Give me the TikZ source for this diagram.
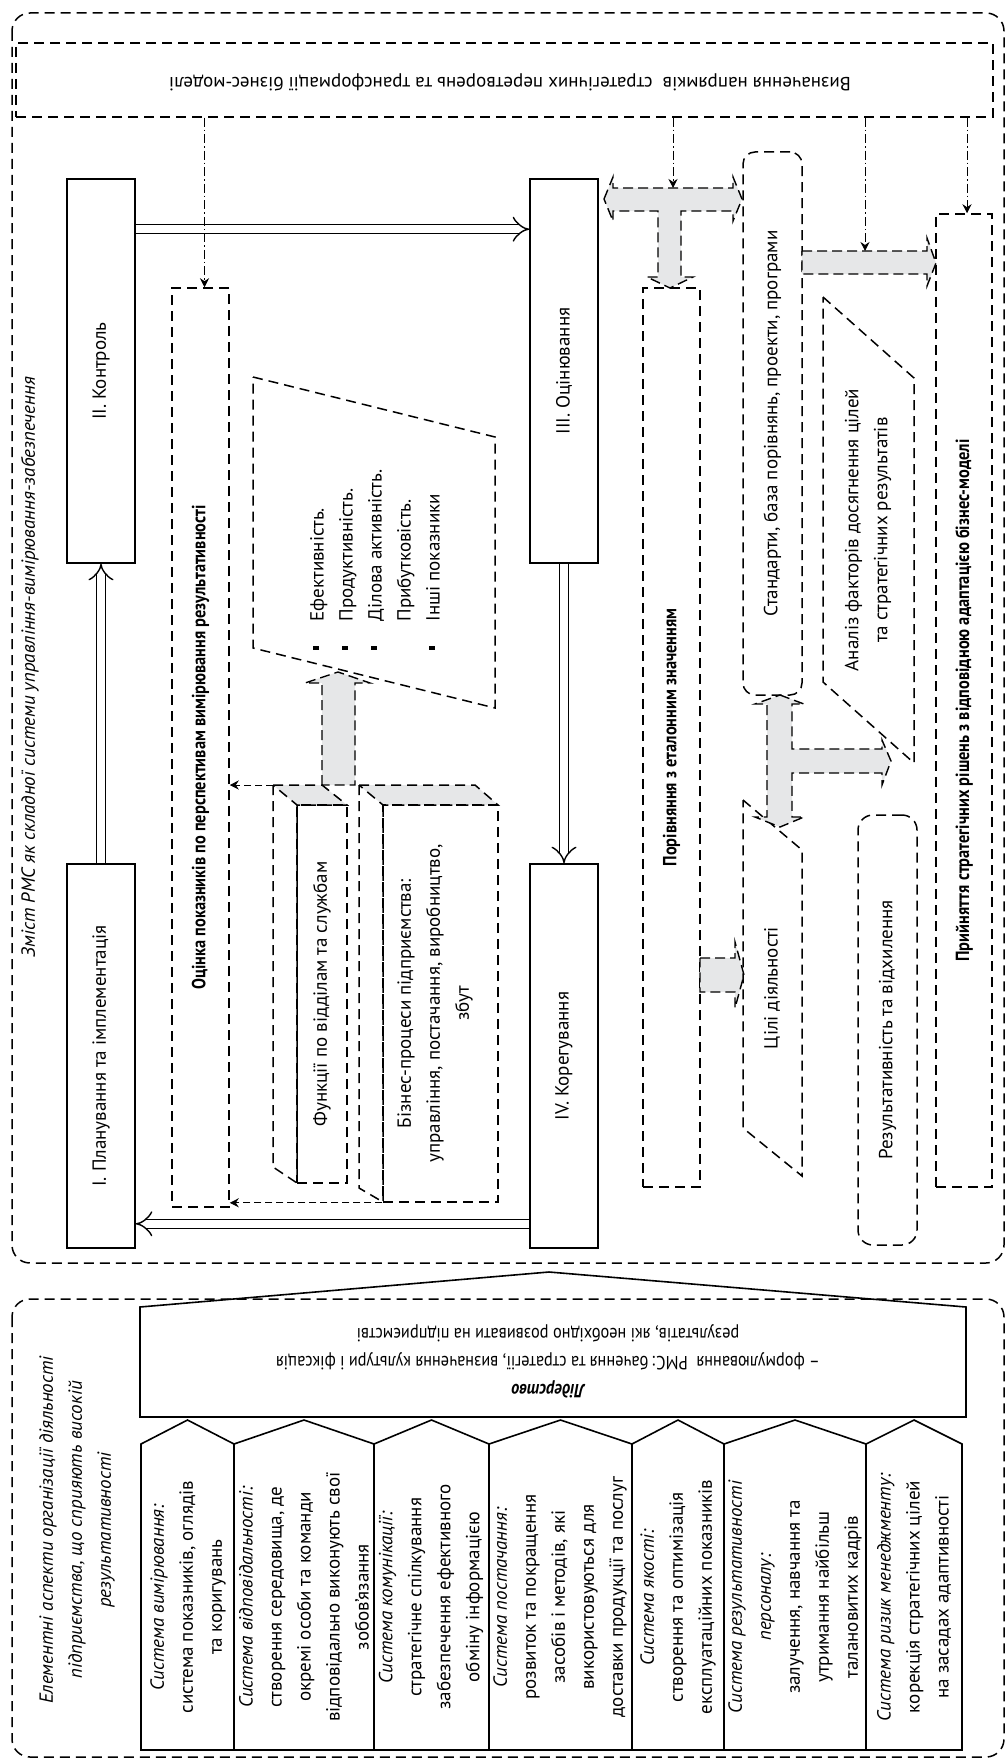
\documentclass[tikz,border=0pt]{standalone}
\usepackage{fontspec}
\setmainfont{PT Sans}
\newfontfamily\condfont{PT Sans}[FakeStretch=0.86]
\usetikzlibrary{arrows.meta}
\definecolor{arrowgray}{HTML}{E6E7E8}
\newcommand{\sqbul}{\makebox[1.5em][l]{\rule[0.25em]{0.22em}{0.3em}}}
\newcommand{\nobul}{\makebox[1.5em][l]{}}

\begin{document}
\begin{tikzpicture}[x=1pt,y=-1pt,
  every node/.style={font=\fontsize{19}{29}\selectfont, inner sep=0pt},
  solidbox/.style={draw, line width=1.6pt, minimum width=68pt, minimum height=384pt},
  dashbox/.style={draw, line width=1.5pt, dash pattern=on 10pt off 6pt},
  grayarrow/.style={draw, fill=arrowgray, line width=1.4pt, dash pattern=on 10pt off 5pt},
  dblarrow/.style={double, double distance=7.5pt, line width=1.4pt, -{Implies}},
  dashdot/.style={line width=0.9pt, dash pattern=on 9pt off 3pt on 1.5pt off 3pt, -{Stealth[length=9pt,width=9pt]}},
  thindash/.style={line width=0.9pt, dash pattern=on 7pt off 4pt, -{Stealth[length=9pt,width=9pt]}},
  itext/.style={font=\fontsize{19}{29}\selectfont\itshape},
  btext/.style={font=\fontsize{19}{29}\selectfont\condfont\bfseries}]
  \useasboundingbox (0,0) rectangle (1006,1763);

  % upper part
  \draw[dashbox, rounded corners=18pt] (12,13) rectangle (1004,1263);
  \node[itext, rotate=90] (rmc-txt) at (30,667) {Зміст РМС як складної системи управління-вимірювання-забезпечення};

  \node[dashbox, minimum width=977pt, minimum height=74pt] (dir) at (504.5,80) {};
  \node[rotate=180] (dir-txt) at (510,82) {Визначення напрямків\ \ стратегічних перетворень та трансформації бізнес-моделі};

  \node[solidbox] (plan) at (101,1056) {};
  \node[rotate=90] (plan-txt) at (plan) {I. Планування та імплементація};
  \node[solidbox] (ctrl) at (101,371) {};
  \node[rotate=90] (ctrl-txt) at (ctrl) {II. Контроль};
  \node[solidbox] (assess) at (564,371) {};
  \node[rotate=90] (assess-txt) at (assess) {III. Оцінювання};
  \node[solidbox] (adjust) at (564,1056) {};
  \node[rotate=90] (adjust-txt) at (adjust) {IV. Корегування};

  \draw[dblarrow] (plan.north) -- (ctrl.south);
  \draw[dblarrow] ([yshift=-51pt]ctrl.north east) -- ([yshift=-51pt]assess.north west);
  \draw[dblarrow] (assess.south) -- (adjust.north);
  \draw[dblarrow] ([yshift=25pt]adjust.south west) -- ([yshift=25pt]plan.south east);

  \node[dashbox, minimum width=57pt, minimum height=919pt] (eval) at (200.5,747.5) {};
  \node[btext, rotate=90] (eval-txt) at (eval) {Оцінка показників по перспективам вимірювання результативності};

  % indicators
  \draw[dashbox] (253,377) -- (495,437) -- (495,708) -- (253,648) -- cycle;
  \node[rotate=90, anchor=west, align=left] (ind-txt) at (375,650)
    {\sqbul Ефективність.\\ \sqbul Продуктивність.\\ \sqbul Ділова активність.\\ \nobul Прибутковість.\\ \sqbul Інші показники};
  \filldraw[grayarrow] (322,785) -- (322,683) -- (305,683) -- (338,672) -- (370,683) -- (355,683) -- (355,785) -- cycle;

  % functions box
  \filldraw[dashbox, fill=arrowgray] (273,785) -- (322,785) -- (347,805) -- (297,805) -- cycle;
  \draw[dashbox] (273,785) -- (273,1167) -- (297,1183) -- (297,805);
  \node[dashbox, minimum width=50pt, minimum height=378pt] (func) at (322,994) {};
  \node[rotate=90] (func-txt) at (func) {Функції по відділам та службам};
  \coordinate (func-corner) at (273,785);
  % business processes box
  \filldraw[dashbox, fill=arrowgray] (359,785) -- (475,785) -- (498,805) -- (383,805) -- cycle;
  \draw[dashbox] (359,785) -- (359,1188) -- (383,1202) -- (383,805);
  \node[dashbox, minimum width=115pt, minimum height=397pt] (biz) at (440.5,1003.5) {};
  \node[rotate=90, align=center] (biz-txt) at (435,1003.5) {Бізнес-процеси підприємства:\\управління, постачання, виробництво,\\збут};

  \draw[thindash] (func-corner) -- (func-corner -| eval.east);
  \draw[thindash] (biz.south west) -- (biz.south west -| eval.east);

  % comparison column
  \node[dashbox, minimum width=57pt, minimum height=899pt] (comp) at (671.5,737.5) {};
  \node[btext, rotate=90] (comp-txt) at (comp) {Порівняння з еталонним значенням};
  \filldraw[grayarrow] (604,199) -- (613,177) -- (613,188) -- (733,188) -- (733,177) -- (742,199) -- (733,221) -- (733,211)
    -- (681,211) -- (681,277) -- (693,277) -- (670,288) -- (647,277) -- (658,277) -- (658,211) -- (613,211) -- (613,221) -- cycle;
  \coordinate (ttop) at (673,188);
  \filldraw[grayarrow] (700,958) -- (735,958) -- (735,942) -- (744,975) -- (735,1008) -- (735,992) -- (700,992) -- cycle;

  \node[dashbox, rounded corners=12pt, minimum width=59pt, minimum height=543pt] (std) at (772.5,423.5) {};
  \node[rotate=90] (std-txt) at (std) {Стандарти, база порівнянь, проекти, програми};
  \draw[dashbox] (743,800) -- (802,850) -- (802,1176) -- (743,1128) -- cycle;
  \node[rotate=90] (goals-txt) at (772,988) {Цілі діяльності};
  \filldraw[grayarrow] (780,695) -- (804,704) -- (792,704) -- (792,749) -- (882,749) -- (882,740) -- (891,761) -- (882,785)
    -- (882,773) -- (792,773) -- (792,817) -- (804,817) -- (780,827) -- (755,817) -- (767,817) -- (767,704) -- (755,704) -- cycle;

  \draw[dashbox] (823,297) -- (914,378) -- (914,763) -- (823,682) -- cycle;
  \node[rotate=90, align=center] (fact-txt) at (868,530) {Аналіз факторів досягнення цілей\\та стратегічних результатів};
  \filldraw[grayarrow] (802,251) -- (927,251) -- (927,238) -- (936,263) -- (927,286) -- (927,274) -- (802,274) -- cycle;
  \coordinate (std-arrow) at (865,251);

  \node[dashbox, rounded corners=15pt, minimum width=59pt, minimum height=430pt] (res) at (887.5,1030) {};
  \node[rotate=90] (res-txt) at (res) {Результативність та відхилення};
  \node[dashbox, minimum width=56pt, minimum height=973pt] (dec) at (964,700.5) {};
  \node[btext, rotate=90] (dec-txt) at (dec) {Прийняття стратегічних рішень з відповідною адаптацією бізнес-моделі};

  \draw[dashdot] ([xshift=4pt]eval.north |- dir.south) -- ([xshift=4pt]eval.north);
  \draw[dashdot] (ttop |- dir.south) -- (ttop);
  \draw[dashdot] (std-arrow |- dir.south) -- (std-arrow);
  \draw[dashdot] ([xshift=3pt]dec.north |- dir.south) -- ([xshift=3pt]dec.north);

  % lower part
  \draw[dashbox, rounded corners=18pt] (12,1299) rectangle (1004,1757);
  \node[itext, rotate=90, align=center] (elem-txt) at (77,1530) {Елементні аспекти організації діяльності\\підприємства, що сприяють високій\\результативності};
  \draw[line width=1.6pt] (140,1307) -- (549,1272) -- (966,1307) -- (966,1417) -- (140,1417) -- cycle;
  \node[rotate=180, align=center, font=\fontsize{19}{28}\selectfont\condfont] (lead-txt) at (548,1361) {\textbf{\textit{Лідерство}}\\– формулювання\ \ РМС: бачення та стратегії, визначення культури і фіксація\\результатів, які необхідно розвивати на підприємстві};

  \foreach \xl/\xr in {141/234, 234/374, 374/489, 489/632, 632/724, 724/866, 866/962}
    \draw[line width=1.6pt] (\xl,1750) -- (\xl,1444) -- ({(\xl+\xr)/2},1420) -- (\xr,1444) -- (\xr,1750) -- cycle;

  \node[rotate=90, align=center] (sys1) at (188,1597) {\textit{Система вимірювання:}\\система показників, оглядів\\та коригувань};
  \node[rotate=90, align=center] (sys2) at (304,1597) {\textit{Система відповідальності:}\\створення середовища, де\\окремі особи та команди\\відповідально виконують свої\\зобов’язання};
  \node[rotate=90, align=center] (sys3) at (431,1597) {\textit{Система комунікації:}\\стратегічне спілкування\\забезпечення ефективного\\обміну інформацією};
  \node[rotate=90, align=center] (sys4) at (560,1597) {\textit{Система постачання:}\\розвиток та покращення\\засобів і методів, які\\використовуються для\\доставки продукції та послуг};
  \node[rotate=90, align=center] (sys5) at (678,1597) {\textit{Система якості:}\\створення та оптимізація\\експлуатаційних показників};
  \node[rotate=90, align=center] (sys6) at (795,1597) {\textit{Система результативності}\\\textit{персоналу:}\\залучення, навчання та\\утримання найбільш\\талановитих кадрів};
  \node[rotate=90, align=center] (sys7) at (914,1597) {\textit{Система ризик менеджменту:}\\корекція стратегічних цілей\\на засадах адаптивності};
\end{tikzpicture}
\end{document}
